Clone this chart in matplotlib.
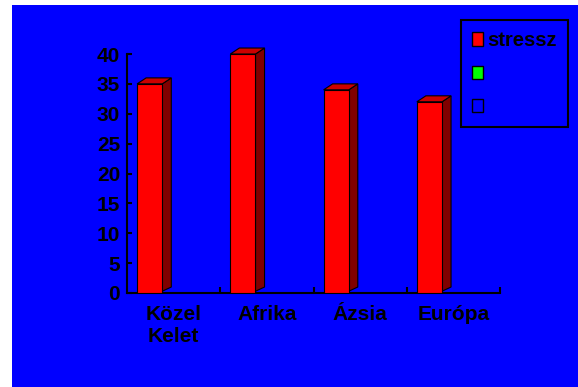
import matplotlib
matplotlib.use('Agg')
import matplotlib.pyplot as plt
from matplotlib.patches import Rectangle, Patch

categories = ['Közel\nKelet', 'Afrika', 'Ázsia', 'Európa']
stressz = [35, 40, 34, 32]
yticks = [0, 5, 10, 15, 20, 25, 30, 35, 40]

plt.rcParams['font.family'] = ['Liberation Sans', 'DejaVu Sans']

fig = plt.figure(figsize=(5.78, 3.87), dpi=100, facecolor='white')
fig.patches.append(Rectangle((12 / 578, 0), 1 - 12 / 578, 1 - 5 / 387,
                             transform=fig.transFigure, facecolor='#0000ff',
                             edgecolor='none', zorder=-1))

ax = fig.add_axes([127 / 578, (387 - 293) / 387, (500 - 127) / 578, (293 - 54) / 387])
ax.set_facecolor('none')

# fake 3d columns: front face + side + top
off, w = 0.108, 0.27
dx, dy = 0.097, 1.0
for i, v in enumerate(stressz):
    x0 = i + off
    ax.bar(x0, v, width=w, align='edge', color='#ff0000', edgecolor='black',
           linewidth=0.8, zorder=3)
    ax.fill([x0 + w, x0 + w + dx, x0 + w + dx, x0 + w],
            [0.3, dy, v + dy, v], facecolor='#800000', edgecolor='black',
            linewidth=0.8, zorder=2, clip_on=False)
    ax.fill([x0, x0 + dx, x0 + w + dx, x0 + w],
            [v, v + dy, v + dy, v], facecolor='#cc0000', edgecolor='black',
            linewidth=0.8, zorder=2, clip_on=False)

ax.set_xlim(0, 4)
ax.set_ylim(0, 40)
ax.set_yticks(yticks)
ax.set_xticks([1, 2, 3, 4])
ax.set_xticklabels([])
ax.set_xticks([0.5, 1.5, 2.5, 3.5], minor=True)
ax.set_xticklabels(categories, minor=True, fontsize=15, fontweight='bold')
ax.tick_params(axis='x', which='minor', length=0, pad=8.5)
ax.tick_params(axis='x', which='major', direction='in', length=4.3, width=1.5)
ax.tick_params(axis='y', direction='in', length=3.6, width=1.5, pad=5,
               labelsize=15)
for lab in ax.get_yticklabels():
    lab.set_fontweight('bold')

for s in ['top', 'right']:
    ax.spines[s].set_visible(False)
for s in ['left', 'bottom']:
    ax.spines[s].set_linewidth(1.5)
    ax.spines[s].set_color('black')

handles = [Patch(facecolor='#ff0000', edgecolor='black'),
           Patch(facecolor='#00ff00', edgecolor='black'),
           Patch(facecolor='#0000ff', edgecolor='black')]
leg = ax.legend(handles, ['stressz', '', ''], loc='upper right',
                bbox_to_anchor=(568 / 578, 1 - 20 / 387),
                bbox_transform=fig.transFigure, borderaxespad=0,
                fancybox=False, frameon=True, prop={'size': 14.5, 'weight': 'bold'},
                handlelength=0.55, handleheight=0.62, handletextpad=0.22,
                labelspacing=0.7, borderpad=0.55, facecolor='#0000ff',
                edgecolor='black', framealpha=1)
leg.get_frame().set_linewidth(1.5)

fig.savefig('out.png', dpi=100, facecolor='white')
